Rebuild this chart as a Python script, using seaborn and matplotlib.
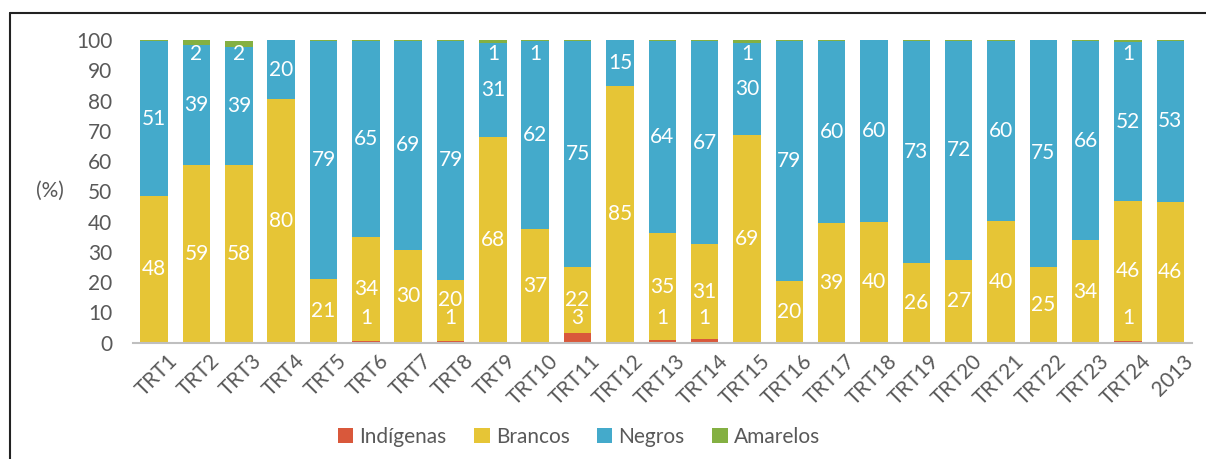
import numpy as np
import pandas as pd
import matplotlib
matplotlib.use('Agg')
import matplotlib.pyplot as plt
import matplotlib.transforms as mtransforms
from matplotlib.lines import Line2D
from matplotlib.patches import Patch
import seaborn as sns

sns.set_style('white')
plt.rcParams['font.family'] = ['Lato', 'DejaVu Sans']

categories = ['TRT1', 'TRT2', 'TRT3', 'TRT4', 'TRT5', 'TRT6', 'TRT7', 'TRT8', 'TRT9',
              'TRT10', 'TRT11', 'TRT12', 'TRT13', 'TRT14', 'TRT15', 'TRT16', 'TRT17',
              'TRT18', 'TRT19', 'TRT20', 'TRT21', 'TRT22', 'TRT23', 'TRT24', '2013']

indigenas = [0.1, 0, 0, 0, 0, 0.6, 0, 0.6, 0, 0, 3.3, 0, 0.9, 1.3, 0, 0, 0, 0, 0, 0, 0, 0, 0, 0.4, 0.2]
brancos = [48.4, 58.7, 58.6, 80.4, 20.9, 34.4, 30.6, 20.2, 67.9, 37.6, 21.7, 84.8, 35.2, 31.2,
           68.6, 20.3, 39.5, 40.0, 26.4, 27.4, 40.2, 25.0, 33.8, 46.4, 46.4]
negros = [51.1, 39.5, 39.2, 19.6, 78.6, 64.7, 69.1, 78.8, 31.0, 61.9, 74.6, 15.2, 63.6, 67.1,
          30.4, 79.3, 60.2, 60.0, 73.3, 72.2, 59.6, 75.0, 65.9, 52.4, 53.0]
amarelos = [0.5, 1.8, 1.8, 0.2, 0.5, 0.3, 0.3, 0.4, 1.1, 0.5, 0.4, 0, 0.4, 0.4, 0.9, 0.4, 0.3,
            0.2, 0.3, 0.4, 0.2, 0, 0.3, 0.7, 0.4]

# labels as printed on the chart (None = no label)
lab_indigenas = [None, None, None, None, None, 1, None, 1, None, None, 3, None, 1, 1, None,
                 None, None, None, None, None, None, None, None, 1, None]
lab_brancos = [48, 59, 58, 80, 21, 34, 30, 20, 68, 37, 22, 85, 35, 31, 69, 20, 39, 40, 26, 27,
               40, 25, 34, 46, 46]
lab_negros = [51, 39, 39, 20, 79, 65, 69, 79, 31, 62, 75, 15, 64, 67, 30, 79, 60, 60, 73, 72,
              60, 75, 66, 52, 53]
lab_amarelos = [None, 2, 2, None, None, None, None, None, 1, 1, None, None, None, None, 1,
                None, None, None, None, None, None, None, None, 1, None]

series = ['Indígenas', 'Brancos', 'Negros', 'Amarelos']
colors = ['#D9583B', '#E6C536', '#44AACB', '#84B042']

df = pd.DataFrame({'cat': categories, 'Indígenas': indigenas, 'Brancos': brancos,
                   'Negros': negros, 'Amarelos': amarelos})
cum = df[series].cumsum(axis=1)

fig = plt.figure(figsize=(12.06, 4.59), dpi=100)
ax = fig.add_axes([0.1103, 0.2534, 0.8777, 0.6595])

# stacked bars: draw cumulative totals from top layer down
for s, c in zip(series[::-1], colors[::-1]):
    sns.barplot(x=df['cat'], y=cum[s], color=c, width=0.65, ax=ax,
                edgecolor=c, linewidth=0, saturation=1)

fs = 15
gray = '#595959'
x = np.arange(len(categories))
for i in x:
    bot_b = indigenas[i]
    yb = bot_b + brancos[i] / 2
    if lab_indigenas[i] is not None:
        yb = max(yb, 14)
    ax.text(i, yb, str(lab_brancos[i]), ha='center', va='center',
            color='white', fontsize=fs)
    bot_n = bot_b + brancos[i]
    ax.text(i, bot_n + negros[i] / 2, str(lab_negros[i]), ha='center', va='center',
            color='white', fontsize=fs)
    if lab_indigenas[i] is not None:
        ax.text(i, 8.0, str(lab_indigenas[i]), ha='center', va='center', color='white', fontsize=fs)
    if lab_amarelos[i] is not None:
        ax.text(i, 95.5, str(lab_amarelos[i]), ha='center', va='center', color='white', fontsize=fs)

ax.set_xlim(-0.5, len(categories) - 0.5)
ax.set_ylim(0, 100)
ax.set_yticks(range(0, 101, 10))
ax.set_xlabel('')
ax.set_ylabel('')
for sp in ['left', 'right', 'top']:
    ax.spines[sp].set_visible(False)
ax.spines['bottom'].set_color('#BFBFBF')
ax.spines['bottom'].set_linewidth(1.5)
ax.tick_params(axis='y', length=0, pad=15, labelsize=fs, labelcolor=gray)
ax.tick_params(axis='x', length=0, pad=6, labelsize=fs, labelcolor=gray)
shift = mtransforms.ScaledTranslation(13 / 100, 0, fig.dpi_scale_trans)
for lbl in ax.get_xticklabels():
    lbl.set_rotation(45)
    lbl.set_ha('right')
    lbl.set_va('top')
    lbl.set_rotation_mode('anchor')
    lbl.set_transform(lbl.get_transform() + shift)

fig.text(50 / 1206, 1 - 191 / 459, '(%)', ha='center', va='center', color=gray, fontsize=fs)

handles = [Patch(facecolor=c, edgecolor='none') for c in colors]
leg = fig.legend(handles, series, loc='center', bbox_to_anchor=(0.48, 0.048), ncol=4,
                 frameon=False, fontsize=fs, handlelength=0.75, handleheight=0.75,
                 handletextpad=0.3, columnspacing=1.3)
for t in leg.get_texts():
    t.set_color(gray)

# outer frame (left and top edges visible)
fig.add_artist(Line2D([9.5 / 1206, 9.5 / 1206], [0, 1 - 13 / 459], color='#222222', lw=1.5,
                      transform=fig.transFigure))
fig.add_artist(Line2D([9.5 / 1206, 1.0], [1 - 13 / 459, 1 - 13 / 459], color='#222222', lw=1.5,
                      transform=fig.transFigure))

fig.savefig('out.png', dpi=100)
